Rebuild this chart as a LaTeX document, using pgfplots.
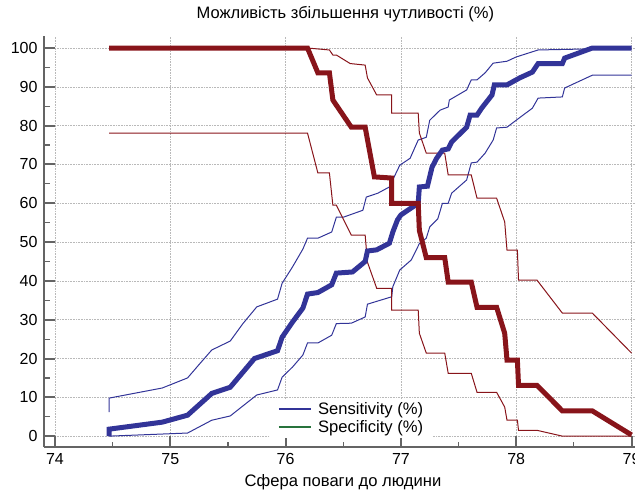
\documentclass[border=0pt]{standalone}
\usepackage{pgfplots}
\pgfplotsset{compat=1.18}
\usepackage{fontspec}
\setmainfont{Liberation Sans}
\definecolor{sensblue}{RGB}{50,52,152}
\definecolor{specred}{RGB}{136,20,26}
\definecolor{axgray}{RGB}{100,100,100}
\definecolor{leggreen}{RGB}{40,115,60}
\begin{document}
\begin{tikzpicture}
\begin{axis}[
  at={(44pt,44pt)}, anchor=south west,
  width=591pt, height=411pt, scale only axis,
  xmin=73.905, xmax=79.03, ymin=-2.8, ymax=103.1,
  axis x line=bottom, axis y line=left,
  axis line style={-, axgray, line width=2.5pt},
  xtick={74,75,76,77,78,79}, ytick={0,10,...,100},
  minor x tick num=1, minor y tick num=1,
  tick align=inside, major tick length=11pt, minor tick length=5.5pt,
  major tick style={axgray, line width=2pt},
  minor tick style={axgray, line width=1.2pt},
  grid=major, major grid style={gray!55, line width=0.6pt, dash pattern=on 0.8pt off 0.8pt},
  tick label style={font=\fontsize{16}{16}\selectfont},
  /pgf/number format/assume math mode=true,
  yticklabel style={xshift=-3pt},
  xticklabel style={yshift=-3pt},
  title={Можливість збільшення чутливості (\%)},
  title style={at={(0.51,1)}, anchor=center, yshift=16pt, font=\fontsize{16.5}{16.5}\selectfont},
  xlabel={Сфера поваги до людини},
  xlabel style={at={(0.506,0)}, anchor=center, yshift=-35pt, font=\fontsize{16.6}{16.6}\selectfont},
  legend style={at={(0.382,0.022)}, anchor=south west, draw=none, fill=white,
    font=\fontsize{16.6}{16.6}\selectfont, inner xsep=8pt, inner ysep=2pt, row sep=0pt,
    cells={anchor=west}},
  legend image code/.code={\draw[#1] (0pt,0pt) -- (32pt,0pt); \path[draw=none] (37pt,0pt) circle (0.1pt);},
]
\addlegendimage{sensblue, line width=2pt}
\addlegendentry{Sensitivity (\%)}
\addlegendimage{leggreen, line width=2pt}
\addlegendentry{Specificity (\%)}

% upper CI sensitivity
\addplot[sensblue, line width=1pt, forget plot] coordinates {
(74.47,6.2) (74.47,9.8) (74.93,12.4) (75.15,15) (75.26,18.8) (75.36,22.2) (75.52,24.5) (75.63,29) (75.75,33.3) (75.93,35.3) (75.97,39.4) (76.06,43.6) (76.15,48.2) (76.19,51) (76.28,51) (76.4,52.6) (76.44,56.4) (76.5,56.4) (76.67,58.2) (76.7,61.6) (76.8,62.6) (76.9,64.2) (76.99,69.8) (77.08,71.6) (77.15,76.3) (77.22,77) (77.25,81.4) (77.34,84) (77.41,84.8) (77.42,86.6) (77.57,89.2) (77.61,91.8) (77.66,91.8) (77.73,93.6) (77.8,96.1) (77.92,96.6) (78.0,97.7) (78.19,99.5) (79,100)
};
% lower CI sensitivity
\addplot[sensblue, line width=1pt, forget plot] coordinates {
(74.47,0) (75.15,0.8) (75.36,4.1) (75.52,5.2) (75.75,10.6) (75.93,11.9) (75.97,15.2) (76.06,17.8) (76.15,20.9) (76.19,24) (76.28,24) (76.4,26) (76.44,29) (76.57,29.1) (76.69,30.7) (76.71,34) (76.82,35) (76.92,35.9) (76.93,38.5) (76.99,42.8) (77.09,45.4) (77.16,49.6) (77.22,51) (77.25,53.9) (77.32,56) (77.36,60) (77.41,60) (77.44,62.6) (77.57,66) (77.61,70.4) (77.66,70.6) (77.73,72.9) (77.8,76.3) (77.83,79.4) (77.92,79.6) (78.0,81.4) (78.14,84.5) (78.19,87.1) (78.4,87.4) (78.42,89.7) (78.66,93) (79,93)
};
% upper CI specificity
\addplot[specred, line width=1pt, forget plot] coordinates {
(74.47,100) (76.19,100) (76.38,99.5) (76.41,98.2) (76.44,98.2) (76.56,96) (76.69,95.6) (76.71,92.3) (76.79,87.9) (76.92,87.9) (76.92,83.2) (77.15,83.2) (77.16,78.1) (77.22,72.9) (77.38,72.9) (77.41,67.3) (77.61,67.3) (77.66,61.3) (77.83,61.3) (77.9,55.2) (77.92,47.9) (78.01,47.9) (78.02,40.2) (78.18,40.2) (78.4,31.7) (78.66,31.7) (79,21.4)
};
% lower CI specificity
\addplot[specred, line width=1pt, forget plot] coordinates {
(74.47,78.1) (76.19,78.1) (76.28,67.8) (76.38,67.8) (76.41,59.5) (76.44,59.5) (76.57,51.8) (76.69,51.8) (76.71,44.8) (76.79,38.1) (76.92,38.1) (76.92,32.5) (77.15,32.5) (77.16,26.5) (77.22,21.4) (77.38,21.4) (77.41,16.2) (77.61,16.2) (77.66,11.3) (77.83,11.3) (77.9,7.5) (77.92,4.1) (78.01,4.1) (78.02,1.5) (78.18,1.5) (78.4,0) (79,0)
};
% sensitivity
\addplot[sensblue, line width=5pt, forget plot] coordinates {
(74.47,0) (74.47,1.8) (74.93,3.6) (75.15,5.4) (75.36,11) (75.52,12.6) (75.73,20) (75.93,22) (75.97,25.5) (76.06,29.4) (76.15,33) (76.19,36.6) (76.28,37) (76.4,39) (76.44,42) (76.58,42.3) (76.69,45) (76.71,47.7) (76.79,48) (76.9,49.7) (76.93,52.6) (76.97,55.7) (77.0,57) (77.15,60) (77.16,64.2) (77.23,64.4) (77.27,69.3) (77.31,71.6) (77.36,73.7) (77.41,74) (77.44,75.8) (77.57,79.6) (77.6,82.7) (77.66,82.7) (77.7,84.5) (77.79,87.9) (77.81,90.5) (77.92,90.5) (78.03,92.3) (78.14,93.8) (78.19,96) (78.4,96) (78.42,97.4) (78.66,100) (79,100)
};
% specificity
\addplot[specred, line width=5pt, forget plot] coordinates {
(74.47,100) (76.19,100) (76.28,93.6) (76.38,93.6) (76.41,86.6) (76.57,79.6) (76.69,79.6) (76.77,66.8) (76.92,66.5) (76.92,60) (77.15,60) (77.16,53) (77.22,46) (77.38,46) (77.41,39.7) (77.61,39.7) (77.66,33.2) (77.83,33.2) (77.9,26.5) (77.92,19.6) (78.01,19.6) (78.02,13.1) (78.18,13.1) (78.4,6.5) (78.66,6.5) (79,0.3)
};
\end{axis}
\pgfresetboundingbox
\path[use as bounding box] (0,0) rectangle (635pt,491pt);
\end{tikzpicture}
\end{document}
